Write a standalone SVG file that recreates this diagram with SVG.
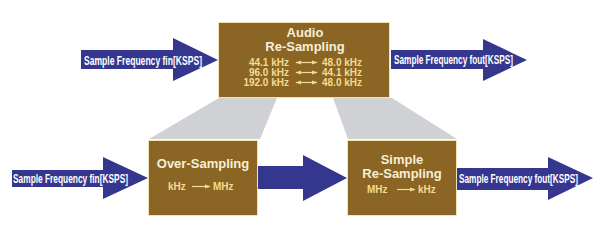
<svg xmlns="http://www.w3.org/2000/svg" width="613" height="235" viewBox="0 0 613 235">
<defs>
<style>
.box{fill:#8b6523;stroke:#f3e3b8;stroke-width:1}
.arr{fill:#35378f}
.shade{fill:#d0d1d5}
.lbl{font-family:"Liberation Sans",Arial,sans-serif;font-weight:bold;fill:#ffffff}
.title{font-family:"Liberation Sans",Arial,sans-serif;font-weight:bold;font-size:13px;fill:#f6efd8;text-anchor:middle}
.num{font-family:"Liberation Sans",Arial,sans-serif;font-weight:bold;font-size:10px;fill:#f2dc94}
.ln{stroke:#f2dc94;stroke-width:1.2;fill:none}
</style>
<marker id="ah" viewBox="0 0 10 10" refX="9" refY="5" markerWidth="6" markerHeight="6" orient="auto-start-reverse" markerUnits="userSpaceOnUse">
<path d="M0,1.5 L10,5 L0,8.5 Z" fill="#f2dc94"/>
</marker>
</defs>
<rect width="613" height="235" fill="#ffffff"/>
<g id="connectors">
<polygon class="shade" points="219,98 277,98 260,139 149,139"/>
<polygon class="shade" points="333,98 392,98 457,139 348,139"/>
<polygon id="arrow-in-top" class="arr" points="81,50 173,50 173,38 218,60 173,81 173,69 81,69"/>
<polygon id="arrow-out-top" class="arr" points="391,50 483,50 483,39 527,60 483,81 483,69 391,69"/>
<polygon id="arrow-in-bottom" class="arr" points="12,170 103,170 103,157 148,178 103,199 103,187 12,187"/>
<polygon id="arrow-mid" class="arr" points="258,166 303,166 303,155 347,178 303,201 303,189 258,189"/>
<polygon id="arrow-out-bottom" class="arr" points="457,168 548,168 548,157 593,178 548,200 548,190 457,190"/>
<text class="lbl" x="84" y="65" font-size="13.5" textLength="118" lengthAdjust="spacingAndGlyphs">Sample Frequency fin[KSPS]</text>
<text class="lbl" x="394" y="64" font-size="13.5" textLength="119" lengthAdjust="spacingAndGlyphs">Sample Frequency fout[KSPS]</text>
<text class="lbl" x="13" y="182.5" font-size="12" textLength="115" lengthAdjust="spacingAndGlyphs">Sample Frequency fin[KSPS]</text>
<text class="lbl" x="459" y="182.5" font-size="12" textLength="119" lengthAdjust="spacingAndGlyphs">Sample Frequency fout[KSPS]</text>
</g>
<g id="audio-resampling">
<rect class="box" x="218.5" y="22.5" width="171" height="75"/>
<text class="title" x="305" y="37">Audio</text>
<text class="title" x="305" y="51">Re-Sampling</text>
<text class="num" x="289" y="66" text-anchor="end">44.1 kHz</text>
<text class="num" x="289" y="76" text-anchor="end">96.0 kHz</text>
<text class="num" x="289" y="86" text-anchor="end">192.0 kHz</text>
<line class="ln" x1="296" y1="62.5" x2="317" y2="62.5" marker-start="url(#ah)" marker-end="url(#ah)"/>
<line class="ln" x1="296" y1="72.5" x2="317" y2="72.5" marker-start="url(#ah)" marker-end="url(#ah)"/>
<line class="ln" x1="296" y1="82.5" x2="317" y2="82.5" marker-start="url(#ah)" marker-end="url(#ah)"/>
<text class="num" x="322" y="66">48.0 kHz</text>
<text class="num" x="322" y="76">44.1 kHz</text>
<text class="num" x="322" y="86">48.0 kHz</text>
</g>
<g id="over-sampling">
<rect class="box" x="148.5" y="140.5" width="109" height="75"/>
<text class="title" x="203" y="168">Over-Sampling</text>
<text class="num" x="168" y="190">kHz</text>
<line class="ln" x1="192" y1="186.5" x2="210" y2="186.5" marker-end="url(#ah)"/>
<text class="num" x="213" y="190">MHz</text>
</g>
<g id="simple-resampling">
<rect class="box" x="347.5" y="140.5" width="109" height="75"/>
<text class="title" x="402" y="164">Simple</text>
<text class="title" x="402" y="178">Re-Sampling</text>
<text class="num" x="367" y="193">MHz</text>
<line class="ln" x1="397" y1="189.5" x2="415" y2="189.5" marker-end="url(#ah)"/>
<text class="num" x="418" y="193">kHz</text>
</g>
</svg>
